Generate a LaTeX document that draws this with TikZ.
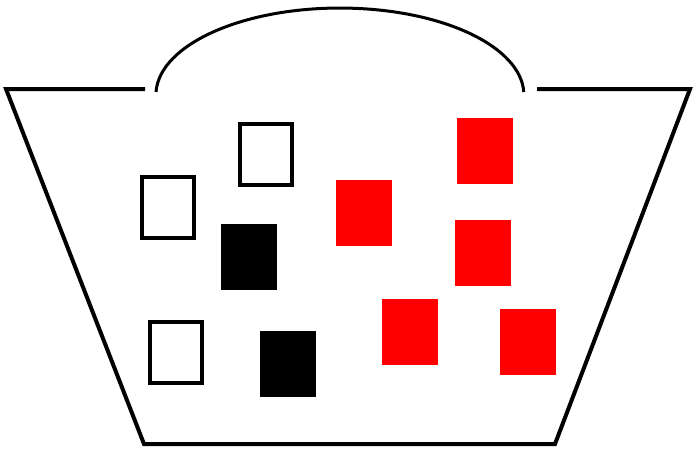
\documentclass[tikz,border=0pt]{standalone}
\begin{document}
\begin{tikzpicture}[x=1pt,y=-1pt,
  basket/.style={line width=4pt,line join=miter},
  handle/.style={line width=3pt},
  openbox/.style={draw=black,line width=4pt,fill=white,minimum width=52pt,minimum height=61pt,inner sep=0pt,outer sep=0pt},
  blackbox/.style={fill=black,minimum width=56pt,minimum height=66pt,inner sep=0pt,outer sep=0pt},
  redbox/.style={fill=red,minimum width=56pt,minimum height=66pt,inner sep=0pt,outer sep=0pt}]
\useasboundingbox (0,0) rectangle (695,450);
% basket body
\coordinate (tl1) at (145,89);
\coordinate (tl) at (6,89);
\coordinate (bl) at (144,444);
\coordinate (br) at (555,444);
\coordinate (tr) at (690,89);
\coordinate (tr1) at (537,89);
\draw[basket] (tl1) -- (tl) -- (bl) -- (br) -- (tr) -- (tr1);
% handle
\draw[handle] (156,92) arc[start angle=178,end angle=2,x radius=184,y radius=-87];
% open boxes
\node[openbox] (w1) at (168,207.5) {};
\node[openbox] (w2) at (266,154.5) {};
\node[openbox] (w3) at (176,352.5) {};
% black boxes
\node[blackbox] (b1) at (249,257) {};
\node[blackbox] (b2) at (287.5,364) {};
% red boxes
\node[redbox] (r1) at (364,213) {};
\node[redbox] (r2) at (485,151) {};
\node[redbox] (r3) at (483,252.5) {};
\node[redbox] (r4) at (410,332) {};
\node[redbox] (r5) at (528,341.5) {};
\end{tikzpicture}
\end{document}
